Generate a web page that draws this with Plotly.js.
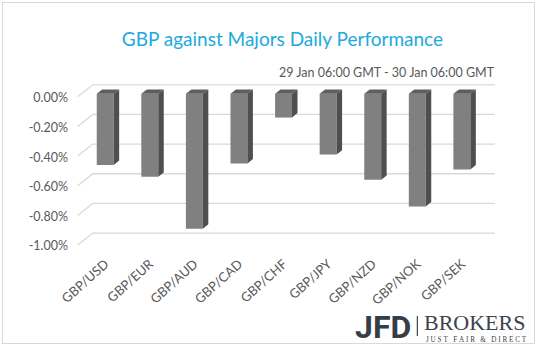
<!DOCTYPE html>
<html>
<head>
<meta charset="utf-8">
<script src="https://cdn.plot.ly/plotly-3.0.1.min.js"></script>
<style>
  html, body { margin: 0; padding: 0; background: #fff; }
  #wrap { position: relative; width: 538px; height: 351px; }
  #chart { width: 538px; height: 351px; }
  #frame { position: absolute; left: 2px; top: 2px; width: 531px; height: 340px;
           border: 1px solid #d9d9d9; pointer-events: none; }
</style>
</head>
<body>
<div id="wrap"><div id="chart"></div><div id="frame"></div></div>
<script>
// ---- data ----
const categories = ['GBP/USD','GBP/EUR','GBP/AUD','GBP/CAD','GBP/CHF','GBP/JPY','GBP/NZD','GBP/NOK','GBP/SEK'];
const performance = [-0.48, -0.56, -0.91, -0.47, -0.16, -0.41, -0.58, -0.76, -0.51];
const yTickVals = [0, -0.2, -0.4, -0.6, -0.8, -1.0];
const yTickText = ['0.00%', '-0.20%', '-0.40%', '-0.60%', '-0.80%', '-1.00%'];

// ---- 3D look parameters (axis units) ----
const barW = 0.38, dx = 0.123, dy = 0.03;
const wallDy = 0.061, floorDy = -0.020, wallX0 = -0.28, frontX0 = -0.617, wallX1 = 8.74;

const idx = categories.map((_, i) => i);

const sideX = [], sideY = [], topX = [], topY = [];
idx.forEach(i => {
  const v = performance[i];
  const xl = i - barW / 2, xr = i + barW / 2;
  sideX.push(xr, xr + dx, xr + dx, xr, xr, null);
  sideY.push(0, dy, v + dy, v, 0, null);
  topX.push(xl, xr, xr + dx, xl + dx, xl, null);
  topY.push(0, 0, dy, dy, 0, null);
});

const traces = [
  { type: 'bar', x: idx, y: performance, width: barW,
    marker: { color: '#808080', line: { width: 0 } }, hoverinfo: 'skip', showlegend: false },
  { type: 'scatter', mode: 'lines', x: sideX, y: sideY, fill: 'toself',
    fillcolor: '#4f4f4f', line: { width: 0, color: '#4f4f4f' }, hoverinfo: 'skip', showlegend: false },
  { type: 'scatter', mode: 'lines', x: topX, y: topY, fill: 'toself',
    fillcolor: '#5e5e5e', line: { width: 0, color: '#5e5e5e' }, hoverinfo: 'skip', showlegend: false }
];

const shapes = yTickVals.map(t => ({
  type: 'path', xref: 'x', yref: 'y', layer: 'below',
  path: `M ${frontX0},${t + floorDy} L ${wallX0},${t + wallDy} L ${wallX1},${t + wallDy}`,
  line: { color: '#d9d9d9', width: 1.3 }
}));

// paper coords helpers (plot area: x 74.3..502.1, y 79..251)
const L = 74.3, R = 502.1, T = 79, B = 251;
const px = x => (x - L) / (R - L);
const py = y => (B - y) / (B - T);

shapes.push({ type: 'line', xref: 'paper', yref: 'paper',
  x0: px(417.5), x1: px(417.5), y0: py(316), y1: py(336),
  line: { color: '#3b434d', width: 1.2 } });

const nb = '\u00A0';
const tagline = 'JUST FAIR & DIRECT'.split(' ').map(w => w.split('').join(nb)).join(nb + nb + nb);

const layout = {
  width: 538, height: 351,
  margin: { l: L, r: 538 - R, t: T, b: 351 - B },
  paper_bgcolor: '#ffffff', plot_bgcolor: 'rgba(0,0,0,0)',
  font: { family: 'Lato, "Open Sans", sans-serif', color: '#595959', size: 12 },
  title: { text: 'GBP against Majors Daily Performance', xref: 'container', yref: 'container',
    x: 0.525, xanchor: 'center', y: 1 - 39 / 351, yanchor: 'middle',
    font: { family: 'Lato, "Open Sans", sans-serif', size: 19, color: '#21a9dd' } },
  xaxis: { range: [-0.7, 8.9], tickvals: idx, ticktext: categories, tickangle: -42,
    showgrid: false, zeroline: false, showline: false, ticks: '', fixedrange: true,
    ticklabelstandoff: 2,
    tickfont: { size: 13, color: '#595959' } },
  yaxis: { range: [-1.06, 0.1], tickvals: yTickVals, ticktext: yTickText,
    showgrid: false, zeroline: false, showline: false, ticks: '',
    ticklabelshift: 4, ticklabelstandoff: 5,
    tickfont: { size: 12.5, color: '#595959' } },
  shapes: shapes,
  annotations: [
    { text: '29 Jan 06:00 GMT - 30 Jan 06:00 GMT', xref: 'paper', yref: 'paper',
      x: px(497), y: py(73), xanchor: 'right', yanchor: 'middle', showarrow: false,
      font: { size: 12.5, color: '#595959' } },
    { text: '<b>JFD</b>', xref: 'paper', yref: 'paper', x: px(413), y: py(326.5),
      xanchor: 'right', yanchor: 'middle', showarrow: false,
      font: { family: 'Roboto, "DejaVu Sans", sans-serif', size: 32, weight: 900, color: '#353d47' } },
    { text: 'BROKERS', xref: 'paper', yref: 'paper', x: px(422), y: py(322.5),
      xanchor: 'left', yanchor: 'middle', showarrow: false,
      font: { family: '"Liberation Serif", "DejaVu Serif", serif', size: 22, color: '#3b434d' } },
    { text: tagline, xref: 'paper', yref: 'paper', x: px(424), y: py(339.5),
      xanchor: 'left', yanchor: 'middle', showarrow: false,
      font: { family: '"Liberation Serif", "DejaVu Serif", serif', size: 7.2, color: '#3b434d' } }
  ]
};

Plotly.newPlot('chart', traces, layout, { displayModeBar: false, staticPlot: true });
</script>
</body>
</html>
